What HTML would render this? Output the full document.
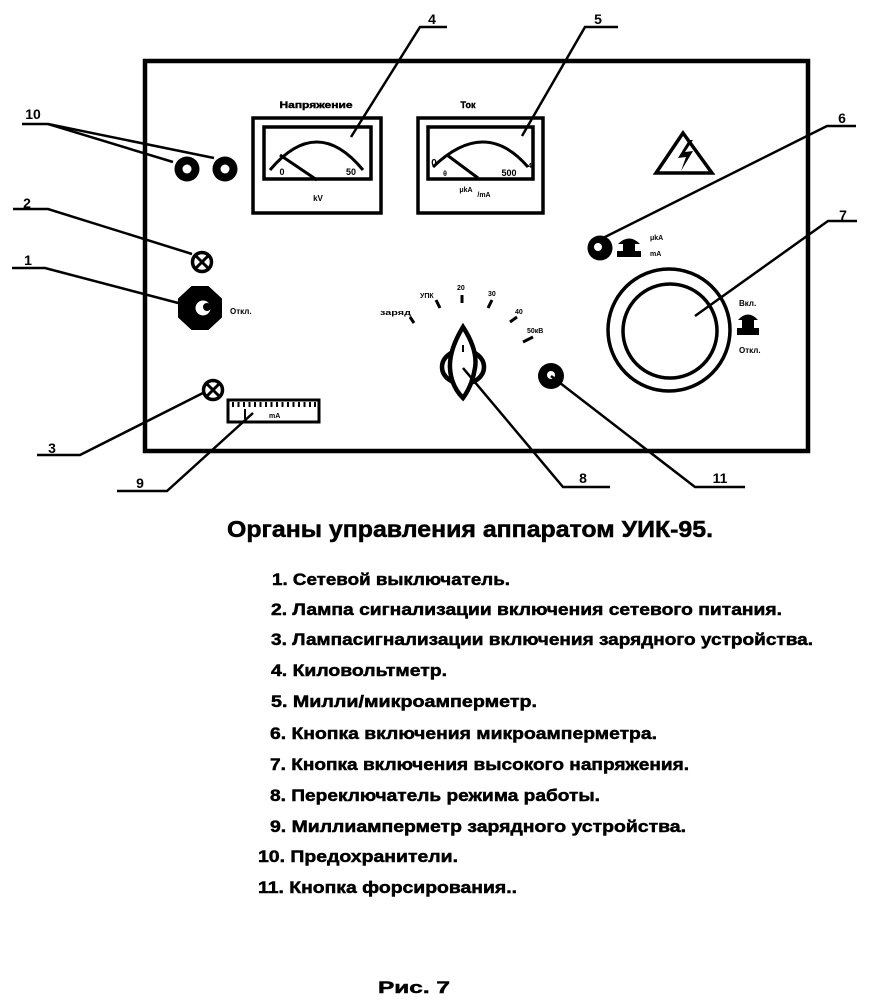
<!DOCTYPE html>
<html><head><meta charset="utf-8"><style>
html,body{margin:0;padding:0;background:#fff;}
svg{display:block;}
text{font-family:"Liberation Sans","DejaVu Sans",sans-serif;font-weight:bold;fill:#000;}
</style></head><body>
<svg width="872" height="1000" viewBox="0 0 872 1000" xmlns="http://www.w3.org/2000/svg">
<rect x="0" y="0" width="872" height="1000" fill="#fff"/>

<!-- panel -->
<rect x="145" y="61" width="663" height="390" fill="none" stroke="#000" stroke-width="4.5"/>

<!-- Meter 1 (voltage) -->
<text x="316" y="108" font-size="9" text-anchor="middle" textLength="73" lengthAdjust="spacingAndGlyphs" stroke="#000" stroke-width="0.4">Напряжение</text>
<rect x="253" y="118" width="128" height="95" fill="none" stroke="#000" stroke-width="3.5"/>
<rect x="264" y="127" width="107" height="52" fill="none" stroke="#000" stroke-width="3.5"/>
<path d="M270,170 Q317,114 363,170" fill="none" stroke="#000" stroke-width="3"/>
<line x1="280" y1="155" x2="317" y2="180" stroke="#000" stroke-width="3"/>
<text x="282" y="175" font-size="9" text-anchor="middle">0</text>
<text x="351" y="175" font-size="9" text-anchor="middle">50</text>
<text x="318" y="201" font-size="8" text-anchor="middle">kV</text>

<!-- Meter 2 (current) -->
<text x="468" y="108" font-size="9" text-anchor="middle" stroke="#000" stroke-width="0.4">Ток</text>
<rect x="418" y="118" width="125" height="95" fill="none" stroke="#000" stroke-width="3.5"/>
<rect x="428" y="127" width="105" height="52" fill="none" stroke="#000" stroke-width="3.5"/>
<path d="M433,167 Q485,117 528,167" fill="none" stroke="#000" stroke-width="3"/>
<line x1="447" y1="155" x2="478" y2="178" stroke="#000" stroke-width="3"/>
<text x="434" y="166" font-size="10" text-anchor="middle">0</text>
<text x="445" y="176" font-size="7" text-anchor="middle">θ</text>
<text x="509" y="176" font-size="9" text-anchor="middle">500</text>
<text x="530" y="168" font-size="7" text-anchor="middle">4</text>
<text x="466" y="192" font-size="7" text-anchor="middle">μkA</text>
<text x="484" y="197" font-size="7" text-anchor="middle">/mA</text>

<!-- label 4 -->
<text x="432" y="24" font-size="14" text-anchor="middle">4</text>
<polyline points="447,27 420,27 351,137" fill="none" stroke="#000" stroke-width="2.5"/>
<!-- label 5 -->
<text x="598" y="24" font-size="14" text-anchor="middle">5</text>
<polyline points="618,27 585,27 522,136" fill="none" stroke="#000" stroke-width="2.5"/>

<!-- warning triangle -->
<polygon points="683,133 656,173 712,173" fill="none" stroke="#000" stroke-width="3.5" stroke-linejoin="miter"/>
<polygon points="689,140 678,158 686,157 681,171 693,151 685,152 693,140" fill="#000"/>

<!-- label 6 / button 6 -->
<text x="842" y="123" font-size="14" text-anchor="middle">6</text>
<polyline points="856,126 827,126 603,238" fill="none" stroke="#000" stroke-width="2.5"/>
<circle cx="600" cy="248" r="12.5" fill="#000"/>
<circle cx="598" cy="247" r="4" fill="#fff"/>
<path d="M618,244 Q629,233 640,244 Z" fill="#000"/>
<rect x="623" y="243" width="12" height="9" fill="#000"/>
<rect x="617" y="251" width="24" height="6" fill="#000"/>
<text x="650" y="240" font-size="7">μkA</text>
<text x="650" y="256" font-size="7">mA</text>

<!-- label 7 / big button -->
<text x="843" y="220" font-size="14" text-anchor="middle">7</text>
<polyline points="857,221 828,221 695,316" fill="none" stroke="#000" stroke-width="2.5"/>
<circle cx="669" cy="330" r="61" fill="none" stroke="#000" stroke-width="3.5"/>
<circle cx="670" cy="331" r="47" fill="none" stroke="#000" stroke-width="3.5"/>
<text x="739" y="306" font-size="8">Вкл.</text>
<path d="M738,320 Q748,309 758,320 Z" fill="#000"/>
<rect x="742" y="318" width="12" height="11" fill="#000"/>
<rect x="737" y="328" width="22" height="7" fill="#000"/>
<text x="739" y="353" font-size="8">Откл.</text>

<!-- fuses 10 -->
<text x="33" y="119" font-size="14" text-anchor="middle">10</text>
<line x1="22" y1="124" x2="48" y2="124" stroke="#000" stroke-width="2.5"/>
<line x1="48" y1="124" x2="173" y2="162" stroke="#000" stroke-width="2.5"/>
<line x1="48" y1="124" x2="214" y2="158" stroke="#000" stroke-width="2.5"/>
<circle cx="187" cy="169" r="12.5" fill="#000"/>
<circle cx="187" cy="169" r="4.5" fill="#fff"/>
<circle cx="225" cy="169" r="12.5" fill="#000"/>
<circle cx="225" cy="169" r="4.5" fill="#fff"/>

<!-- lamp 2 -->
<text x="27" y="208" font-size="14" text-anchor="middle">2</text>
<polyline points="13,209 48,209 192,254" fill="none" stroke="#000" stroke-width="2.5"/>
<circle cx="202" cy="262" r="9.5" fill="#fff" stroke="#000" stroke-width="3.5"/>
<line x1="195.5" y1="255.5" x2="208.5" y2="268.5" stroke="#000" stroke-width="3"/>
<line x1="208.5" y1="255.5" x2="195.5" y2="268.5" stroke="#000" stroke-width="3"/>

<!-- knob 1 -->
<text x="28" y="265" font-size="14" text-anchor="middle">1</text>
<polyline points="12,268 45,268 182,304" fill="none" stroke="#000" stroke-width="2.5"/>
<polygon points="192,287 208,287 221,299 221,317 208,329 192,329 179,317 179,299" fill="#000" stroke="#000" stroke-width="2" stroke-linejoin="round"/>
<circle cx="203" cy="308" r="7.5" fill="#fff"/>
<circle cx="207" cy="307" r="4" fill="#000"/>
<text x="230" y="314" font-size="8">Откл.</text>

<!-- lamp 3 -->
<text x="52" y="453" font-size="14" text-anchor="middle">3</text>
<polyline points="37,455 80,455 203,393" fill="none" stroke="#000" stroke-width="2.5"/>
<circle cx="213" cy="390" r="9.5" fill="#fff" stroke="#000" stroke-width="3.5"/>
<line x1="206.5" y1="383.5" x2="219.5" y2="396.5" stroke="#000" stroke-width="3"/>
<line x1="219.5" y1="383.5" x2="206.5" y2="396.5" stroke="#000" stroke-width="3"/>

<!-- meter 9 -->
<rect x="228" y="400" width="91" height="22" fill="#fff" stroke="#000" stroke-width="3"/>
<g stroke="#000" stroke-width="2">
<line x1="233" y1="402" x2="233" y2="407"/><line x1="238.5" y1="402" x2="238.5" y2="407"/>
<line x1="244" y1="402" x2="244" y2="407"/><line x1="249.5" y1="402" x2="249.5" y2="407"/>
<line x1="255" y1="402" x2="255" y2="407"/><line x1="260.5" y1="402" x2="260.5" y2="407"/>
<line x1="266" y1="402" x2="266" y2="407"/><line x1="271.5" y1="402" x2="271.5" y2="407"/>
<line x1="277" y1="402" x2="277" y2="407"/><line x1="282.5" y1="402" x2="282.5" y2="407"/>
<line x1="288" y1="402" x2="288" y2="407"/><line x1="293.5" y1="402" x2="293.5" y2="407"/>
<line x1="299" y1="402" x2="299" y2="407"/><line x1="304.5" y1="402" x2="304.5" y2="407"/>
<line x1="310" y1="402" x2="310" y2="407"/><line x1="315" y1="402" x2="315" y2="407"/>
<line x1="245" y1="409" x2="245" y2="419"/>
</g>
<text x="269" y="418" font-size="7">mA</text>
<text x="140" y="488" font-size="14" text-anchor="middle">9</text>
<polyline points="117,491 167,491 253,413" fill="none" stroke="#000" stroke-width="2.5"/>

<!-- switch scale -->
<g font-size="7">
<text x="380" y="315" textLength="31" lengthAdjust="spacingAndGlyphs">заряд</text>
<text x="420" y="298">УПК</text>
<text x="457" y="290">20</text>
<text x="488" y="296">30</text>
<text x="515" y="314">40</text>
<text x="527" y="333">50кВ</text>
</g>
<g stroke="#000" stroke-width="3">
<line x1="410" y1="317" x2="414" y2="323"/>
<line x1="436" y1="300" x2="440" y2="308"/>
<line x1="462" y1="295" x2="462" y2="303"/>
<line x1="492" y1="300" x2="488" y2="308"/>
<line x1="517" y1="317" x2="510" y2="322"/>
<line x1="533" y1="337" x2="523" y2="342"/>
</g>

<!-- switch 8 -->
<ellipse cx="463" cy="367" rx="21" ry="17" fill="none" stroke="#000" stroke-width="4.5"/>
<path d="M463,327 Q478,350 475,368 Q472,386 463,398 Q451,386 450,368 Q449,350 463,327 Z" fill="#fff" stroke="#000" stroke-width="4.5"/>
<line x1="463" y1="345" x2="463" y2="352" stroke="#000" stroke-width="2"/>
<text x="583" y="483" font-size="14" text-anchor="middle">8</text>
<polyline points="463,368 563,487 610,487" fill="none" stroke="#000" stroke-width="2.5"/>

<!-- button 11 -->
<circle cx="551" cy="376" r="13" fill="#000"/>
<circle cx="551" cy="375" r="4" fill="#fff"/>
<text x="720" y="483" font-size="14" text-anchor="middle">11</text>
<polyline points="551,376 695,487 745,487" fill="none" stroke="#000" stroke-width="2.5"/>

<!-- Title & list -->
<text x="227" y="537" font-size="23" textLength="486" lengthAdjust="spacingAndGlyphs" stroke="#000" stroke-width="0.5">Органы управления аппаратом УИК-95.</text>
<g font-size="17" stroke="#000" stroke-width="0.5">
<text x="272" y="585" textLength="238" lengthAdjust="spacingAndGlyphs">1. Сетевой выключатель.</text>
<text x="271" y="615" textLength="511" lengthAdjust="spacingAndGlyphs">2. Лампа сигнализации включения сетевого питания.</text>
<text x="271" y="645" textLength="542" lengthAdjust="spacingAndGlyphs">3. Лампасигнализации включения зарядного устройства.</text>
<text x="271" y="676" textLength="176" lengthAdjust="spacingAndGlyphs">4. Киловольтметр.</text>
<text x="271" y="707" textLength="266" lengthAdjust="spacingAndGlyphs">5. Милли/микроамперметр.</text>
<text x="270" y="739" textLength="387" lengthAdjust="spacingAndGlyphs">6. Кнопка включения микроамперметра.</text>
<text x="270" y="770" textLength="419" lengthAdjust="spacingAndGlyphs">7. Кнопка включения высокого напряжения.</text>
<text x="270" y="801" textLength="330" lengthAdjust="spacingAndGlyphs">8. Переключатель режима работы.</text>
<text x="270" y="832" textLength="416" lengthAdjust="spacingAndGlyphs">9. Миллиамперметр зарядного устройства.</text>
<text x="258" y="862" textLength="200" lengthAdjust="spacingAndGlyphs">10. Предохранители.</text>
<text x="258" y="893" textLength="259" lengthAdjust="spacingAndGlyphs">11. Кнопка форсирования..</text>
<text x="378" y="993" textLength="72" lengthAdjust="spacingAndGlyphs">Рис.  7</text>
</g>
</svg>
</body></html>
